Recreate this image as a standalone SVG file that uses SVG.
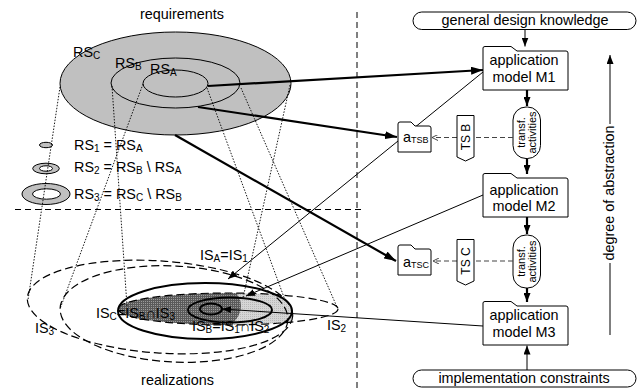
<svg xmlns="http://www.w3.org/2000/svg" width="639" height="389" viewBox="0 0 639 389">
<style>
text{font-family:"Liberation Sans","DejaVu Sans",Arial,sans-serif;font-size:14.4px;fill:#000}
.sub{font-size:10px}
.small{font-size:11px}
.tiny{font-size:9px}
.thin{fill:none;stroke:#000;stroke-width:1}
.thick{fill:none;stroke:#000;stroke-width:2.2}
.bold{fill:none;stroke:#000;stroke-width:2}
.dot{fill:none;stroke:#000;stroke-width:0.9;stroke-dasharray:1.5 1.5}
.dash{fill:none;stroke:#000;stroke-width:1.2;stroke-dasharray:8 4}
.sep{fill:none;stroke:#000;stroke-width:1;stroke-dasharray:6 4}
.trace{fill:none;stroke:#444;stroke-width:1.2;stroke-dasharray:5 3}
.box{fill:#fff;stroke:#000;stroke-width:1}
.rs{fill:#c0c0c0;stroke:#000;stroke-width:1}
.hole{fill:#fff;stroke:#000;stroke-width:1}
</style>
<defs>
  <marker id="big" viewBox="0 0 12 8" refX="12" refY="4" markerWidth="12" markerHeight="8" orient="auto" markerUnits="userSpaceOnUse">
    <path d="M0,0 L12,4 L0,8 Z" fill="#000"/>
  </marker>
  <marker id="sm" viewBox="0 0 9 7" refX="9" refY="3.5" markerWidth="9" markerHeight="7" orient="auto" markerUnits="userSpaceOnUse">
    <path d="M0,0 L9,3.5 L0,7 Z" fill="#000"/>
  </marker>
  <marker id="open" viewBox="0 0 6 6" refX="6" refY="3" markerWidth="6" markerHeight="6" orient="auto" markerUnits="userSpaceOnUse">
    <path d="M0,0 L6,3 L0,6" fill="none" stroke="#444" stroke-width="1"/>
  </marker>
  <pattern id="grid" width="2" height="2" patternUnits="userSpaceOnUse">
    <rect width="2" height="2" fill="#9a9a9a"/>
    <path d="M0,0.5H2M0.5,0V2" stroke="#5a5a5a" stroke-width="1"/>
  </pattern>
  <pattern id="speck" width="2" height="2" patternUnits="userSpaceOnUse">
    <rect width="2" height="2" fill="#d6d6d6"/>
    <rect width="1" height="1" fill="#b8b8b8"/>
  </pattern>
  <clipPath id="clipIS1"><ellipse cx="160" cy="307" rx="133" ry="46" transform="rotate(4 160 307)"/></clipPath>
  <clipPath id="clipCore"><ellipse cx="135" cy="306" rx="106" ry="45"/></clipPath>
  <path id="folderBig" class="box" d="M0,44 V2 Q0,0.5 2,0.5 H28 L34,5 H83 Q85,5 85,7 V44 Z"/>
  <path id="folderSmall" class="box" d="M0,30 V2 Q0,0 2,0 H13 L17,4 H31 Q33,4 33,6 V30 Z"/>
</defs>

<!-- section separators -->
<g id="separators">
  <line class="sep" x1="357" y1="12" x2="357" y2="389"/>
  <line class="sep" x1="15" y1="209.5" x2="363" y2="209.5"/>
</g>

<!-- requirement sets -->
<g id="requirements">
  <text x="182" y="18.5" text-anchor="middle">requirements</text>
  <ellipse class="rs" cx="175.5" cy="83.5" rx="115.5" ry="51.5"/>
  <ellipse class="thin" cx="175.5" cy="83" rx="64.5" ry="25"/>
  <ellipse class="thin" cx="175.5" cy="83.5" rx="32.5" ry="13.5"/>
  <text x="73" y="57">RS<tspan class="sub" dy="2">C</tspan></text>
  <text x="115" y="68">RS<tspan class="sub" dy="2">B</tspan></text>
  <text x="150" y="74">RS<tspan class="sub" dy="2">A</tspan></text>
</g>

<!-- partitions RS1..RS3 -->
<g id="partitions">
  <ellipse class="rs" cx="46" cy="145" rx="6.5" ry="2.7"/>
  <ellipse class="rs" cx="46" cy="168.5" rx="13.3" ry="5.3"/>
  <ellipse class="hole" cx="46" cy="168.5" rx="6.5" ry="2.7"/>
  <ellipse class="rs" cx="46" cy="194" rx="24" ry="10.5"/>
  <ellipse class="hole" cx="46.5" cy="194" rx="14" ry="5.2"/>
  <text x="74" y="149.5">RS<tspan class="sub" dy="2">1</tspan><tspan dy="-2"> = RS</tspan><tspan class="sub" dy="2">A</tspan></text>
  <text x="74" y="172">RS<tspan class="sub" dy="2">2</tspan><tspan dy="-2"> = RS</tspan><tspan class="sub" dy="2">B</tspan><tspan dy="-2"> \ RS</tspan><tspan class="sub" dy="2">A</tspan></text>
  <text x="74" y="198.5">RS<tspan class="sub" dy="2">3</tspan><tspan dy="-2"> = RS</tspan><tspan class="sub" dy="2">C</tspan><tspan dy="-2"> \ RS</tspan><tspan class="sub" dy="2">B</tspan></text>
</g>

<!-- realization sets -->
<g id="realizations">
  <text x="177.5" y="384.5" text-anchor="middle">realizations</text>
  <!-- IS_B and IS_C regions -->
  <g clip-path="url(#clipIS1)">
    <ellipse cx="228" cy="309" rx="110" ry="16" fill="url(#speck)"/>
  </g>
  <g clip-path="url(#clipCore)">
    <ellipse cx="228" cy="309" rx="110" ry="16" fill="url(#grid)"/>
  </g>
  <!-- IS1, IS2, IS3 -->
  <ellipse class="dash" cx="160" cy="307" rx="133" ry="46" transform="rotate(4 160 307)"/>
  <ellipse class="dash" cx="174" cy="314" rx="114" ry="48" transform="rotate(3 174 314)"/>
  <ellipse class="dash" cx="228" cy="309" rx="110" ry="16"/>
  <!-- model realizations -->
  <ellipse class="bold" cx="205" cy="311" rx="87" ry="28"/>
  <ellipse class="bold" cx="230" cy="310" rx="42" ry="12.5"/>
  <ellipse class="bold" cx="211" cy="309" rx="11" ry="5.5"/>
  <text x="200" y="260">IS<tspan class="sub" dy="2">A</tspan><tspan dy="-2">=IS</tspan><tspan class="sub" dy="2">1</tspan></text>
  <text x="96" y="318">IS<tspan class="sub" dy="2">C</tspan><tspan dy="-2">=IS</tspan><tspan class="sub" dy="2">B</tspan><tspan dy="-2">∩IS</tspan><tspan class="sub" dy="2">3</tspan></text>
  <text x="192" y="331">IS<tspan class="sub" dy="2">B</tspan><tspan dy="-2">=IS</tspan><tspan class="sub" dy="2">1</tspan><tspan dy="-2">∩IS</tspan><tspan class="sub" dy="2">2</tspan></text>
  <text x="35" y="333">IS<tspan class="sub" dy="2">3</tspan></text>
  <text x="327" y="330">IS<tspan class="sub" dy="2">2</tspan></text>
</g>

<!-- right column nodes -->
<g id="knowledge">
  <rect class="box" x="413" y="12" width="223" height="17.5" rx="8.75"/>
  <text x="525" y="24.5" text-anchor="middle">general design knowledge</text>
</g>
<g id="m1">
  <use href="#folderBig" x="483" y="46"/>
  <text x="524" y="65" text-anchor="middle">application</text>
  <text x="524" y="82" text-anchor="middle">model M1</text>
</g>
<g id="t1">
  <rect class="box" x="513" y="107" width="27.5" height="51.5" rx="13"/>
  <text class="small" transform="translate(524.5,132.5) rotate(-90)" text-anchor="middle">transf.</text>
  <text class="small" transform="translate(536,132.5) rotate(-90)" text-anchor="middle">activities</text>
</g>
<g id="m2">
  <use href="#folderBig" x="483" y="173"/>
  <text x="524" y="194.5" text-anchor="middle">application</text>
  <text x="524" y="210.5" text-anchor="middle">model M2</text>
</g>
<g id="t2">
  <rect class="box" x="513" y="235" width="27.5" height="53" rx="13"/>
  <text class="small" transform="translate(524.5,261.5) rotate(-90)" text-anchor="middle">transf.</text>
  <text class="small" transform="translate(536,261.5) rotate(-90)" text-anchor="middle">activities</text>
</g>
<g id="m3">
  <use href="#folderBig" x="483" y="301"/>
  <text x="524" y="320" text-anchor="middle">application</text>
  <text x="524" y="337" text-anchor="middle">model M3</text>
</g>
<g id="constraints">
  <rect class="box" x="413" y="370" width="223" height="17" rx="8.5"/>
  <text x="524" y="383" text-anchor="middle">implementation constraints</text>
</g>

<!-- connectors -->
<g id="connectors">
  <!-- projections between requirement and realization sets -->
  <line class="dot" x1="60" y1="87" x2="28" y2="300"/>
  <line class="dot" x1="112" y1="86" x2="127" y2="306"/>
  <line class="dot" x1="143" y1="84" x2="60" y2="309"/>
  <line class="dot" x1="207" y1="88" x2="285" y2="300"/>
  <line class="dot" x1="241" y1="88" x2="337" y2="307"/>
  <line class="dot" x1="290" y1="85" x2="243" y2="298"/>
  <!-- requirements to models -->
  <line class="thick" x1="208" y1="86" x2="483" y2="70" marker-end="url(#big)"/>
  <line class="thick" x1="198" y1="107" x2="397" y2="137" marker-end="url(#big)"/>
  <line class="thick" x1="175" y1="135" x2="396" y2="261" marker-end="url(#big)"/>
  <!-- models to realizations -->
  <line class="thin" x1="483" y1="72" x2="228" y2="279" marker-end="url(#sm)"/>
  <line class="thin" x1="483" y1="195" x2="246" y2="296" marker-end="url(#sm)"/>
  <line class="thin" x1="483" y1="326" x2="222" y2="309" marker-end="url(#sm)"/>
  <!-- model chain -->
  <line class="thin" x1="525" y1="29.5" x2="525" y2="46.5" marker-end="url(#sm)"/>
  <line class="thick" stroke-width="1.6" x1="527" y1="90" x2="527" y2="106" marker-end="url(#sm)"/>
  <line class="thick" stroke-width="1.6" x1="527" y1="158.5" x2="527" y2="174" marker-end="url(#sm)"/>
  <line class="thick" stroke-width="1.6" x1="527" y1="217" x2="527" y2="234" marker-end="url(#sm)"/>
  <line class="thick" stroke-width="1.6" x1="527" y1="288" x2="527" y2="302" marker-end="url(#sm)"/>
  <line class="thin" x1="527" y1="370" x2="527" y2="345.5" marker-end="url(#sm)"/>
  <!-- traces -->
  <line class="trace" x1="513" y1="137.5" x2="432" y2="137.5" marker-end="url(#open)"/>
  <line class="trace" x1="513" y1="261" x2="433" y2="261" marker-end="url(#open)"/>
  <!-- abstraction axis -->
  <line class="thin" x1="610" y1="335" x2="610" y2="263"/>
  <line class="thin" x1="610" y1="124" x2="610" y2="55" marker-end="url(#sm)"/>
</g>

<g id="atsb">
  <use href="#folderSmall" x="398" y="122"/>
  <text x="403" y="142">a<tspan class="tiny" dy="1">TSB</tspan></text>
</g>
<g id="atsc">
  <use href="#folderSmall" x="398" y="245"/>
  <text x="403" y="267">a<tspan class="tiny" dy="1">TSC</tspan></text>
</g>
<g id="tsb">
  <path class="box" d="M457,115.5 H474 V157 L465.5,161 L457,157 Z"/>
  <text class="small" font-size="12" transform="translate(470,137) rotate(-90)" text-anchor="middle" style="font-size:12px">TS B</text>
</g>
<g id="tsc">
  <path class="box" d="M457,239.5 H474 V281 L465.5,285 L457,281 Z"/>
  <text transform="translate(470,261) rotate(-90)" text-anchor="middle" style="font-size:12px">TS C</text>
</g>
<g id="axis-label">
  <text transform="translate(614,193) rotate(-90)" text-anchor="middle">degree of abstraction</text>
</g>
</svg>
